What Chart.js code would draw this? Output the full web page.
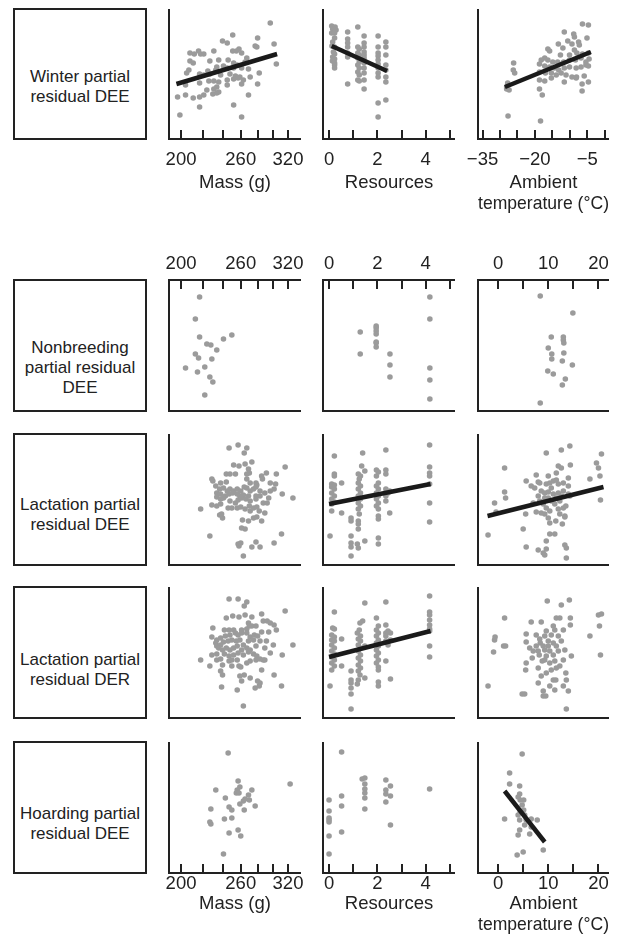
<!DOCTYPE html>
<html>
<head>
<meta charset="utf-8">
<title>Partial residual plots</title>
<script src="https://cdn.jsdelivr.net/npm/chart.js@4.4.1/dist/chart.umd.min.js"></script>
<style>
  html, body { margin: 0; padding: 0; background: #fff; }
  body { position: relative; width: 622px; height: 940px; overflow: hidden;
         font-family: "Liberation Sans", Arial, sans-serif; color: #222; }
  .box { position: absolute; left: 13px; width: 134px; box-sizing: border-box; border: 2px solid #222; }
  .lbl { position: absolute; left: 13px; width: 134px; text-align: center; font-size: 17px; line-height: 19.5px; }
  canvas { position: absolute; }
</style>
</head>
<body>
<div class="box" style="top:8px;height:132px"></div>
<div class="lbl" style="top:67px">Winter partial<br>residual DEE</div>
<div class="box" style="top:279px;height:133px"></div>
<div class="lbl" style="top:338px;line-height:20px">Nonbreeding<br>partial residual<br>DEE</div>
<div class="box" style="top:433px;height:133px"></div>
<div class="lbl" style="top:495px">Lactation partial<br>residual DEE</div>
<div class="box" style="top:586px;height:133px"></div>
<div class="lbl" style="top:650px">Lactation partial<br>residual DER</div>
<div class="box" style="top:741px;height:133px"></div>
<div class="lbl" style="top:804px">Hoarding partial<br>residual DEE</div>
<script>
const FONT = '"Liberation Sans", Arial, sans-serif';
const INK = '#222';

// tick values and which of them carry a label
const massTicks = [200, 220, 240, 260, 280, 300, 320];
const massLabels = [200, 260, 320];
const resTicks = [0, 1, 2, 3, 4, 5];
const resLabels = [0, 2, 4];
const winterTempTicks = [-35, -30, -25, -20, -15, -10, -5, 0];
const winterTempLabels = [-35, -20, -5];
const tempTicks = [0, 5, 10, 15, 20];
const tempLabels = [0, 10, 20];

// points: [x, partial residual]   (residual in arbitrary units, 0 = bottom of panel)
// Winter
const winterMass = [[296,116],[251,104],[280,101],[240,98],[245,96],[301,95],[277,93],[279,92],[258,90],[251,88],[255,88],[231,88],[216,88],[208,86],[212,85],[218,85],[261,86],[221,85],[267,81],[208,78],[211,76],[227,78],[236,79],[246,79],[252,76],[265,77],[304,75],[256,74],[241,73],[234,72],[225,68],[233,69],[245,71],[252,71],[261,71],[269,70],[207,69],[205,66],[217,65],[227,65],[221,64],[238,64],[248,65],[254,63],[259,62],[271,62],[282,66],[231,58],[226,58],[236,57],[245,59],[252,60],[257,61],[263,59],[217,56],[204,54],[234,52],[231,50],[224,49],[236,47],[245,54],[261,55],[280,55],[197,42],[204,44],[211,41],[217,42],[221,44],[230,45],[234,46],[269,44],[217,32],[252,34],[199,24],[261,22]];
const winterMassFit = [[196,55],[305,85]];
const winterRes = [[0.11,113],[0.25,112],[0.15,110],[0.29,109],[0.11,106],[0.23,106],[0.23,101],[0.15,97],[0.12,93],[0.23,92],[0.18,87],[0.23,85],[0.15,82],[0.23,80],[0.14,78],[0.23,76],[0.23,74],[0.23,71],
  [0.77,107],[0.77,100],[0.77,96],[0.77,92],[0.77,86],[0.77,82],[0.77,55],
  [1.19,112],[1.19,92],[1.25,90],[1.19,86],[1.25,84],[1.19,81],[1.25,77],[1.19,74],[1.25,71],[1.19,67],[1.25,64],[1.19,59],[1.25,58],
  [1.45,103],[1.45,96],[1.45,92],[1.45,87],[1.45,84],[1.45,81],[1.45,76],[1.45,71],[1.45,66],[1.45,59],[1.45,50],
  [2.03,103],[2.03,92],[2.03,86],[2.03,83],[2.03,79],[2.03,75],[2.03,71],[2.03,66],[2.03,62],[2.03,36],[2.03,22],
  [2.35,97],[2.35,92],[2.35,84],[2.35,74],[2.35,69],[2.35,62],[2.35,57],[2.35,39]];
const winterResFit = [[0.11,93],[2.4,68]];
const winterTemp = [[-6.4,115],[-4.7,114],[-11.6,107],[-8.9,105],[-8.7,102],[-5.1,101],[-10.6,98],[-7.5,97],[-13.3,95],[-12,91],[-9.4,95],[-7.3,94],[-16.3,90],[-15.8,88],[-8.7,89],[-10.1,84],[-12.7,84],[-8,86],[-6.4,85],[-4.7,86],[-17.2,81],[-18.2,79],[-16.3,79],[-14.9,77],[-13.5,77],[-11.8,77],[-10.1,79],[-8.4,79],[-6.8,81],[-5.4,77],[-4.5,80],[-26.1,76],[-26.2,69],[-25.8,66],[-18.7,75],[-17.2,73],[-15.8,72],[-14.4,71],[-13.2,69],[-11.6,71],[-10.1,72],[-8.2,71],[-6.8,72],[-5.4,74],[-4.7,73],[-18.7,67],[-17,66],[-15.3,66],[-13.9,64],[-12.5,66],[-11.1,64],[-9.4,62],[-8.1,62],[-5.9,63],[-18.7,59],[-17.2,58],[-15.3,61],[-11.6,57],[-8.2,61],[-4.7,57],[-27.8,56],[-28.1,52],[-27.4,49],[-28.1,50],[-18.7,50],[-17.9,44],[-6.5,55],[-6.5,48],[-27.7,23],[-18.4,18]];
const winterTempFit = [[-28.6,52],[-4,87]];

// Nonbreeding
const nonbMass = [[217,114],[213,92],[217,74],[241,72],[250,76],[224,67],[228,66],[234,61],[213,57],[216,53],[229,52],[204,43],[222,44],[215,39],[227,34],[230,29],[222,16]];
const nonbRes = [[1.29,79],[1.29,57],[1.95,85],[1.95,83],[1.95,80],[1.95,77],[1.95,69],[1.95,68],[1.95,64],[2.52,57],[2.52,46],[2.52,34],[4.17,114],[4.17,92],[4.17,43],[4.17,31],[4.17,12]];
const nonbTemp = [[8.4,115],[14.9,98],[10.6,74],[13.0,74],[13.0,71],[13.1,68],[10.0,63],[10.7,57],[10.7,52],[13.1,58],[12.8,50],[14.8,46],[9.9,40],[11.0,37],[13.4,32],[12.8,26],[8.4,8]];

// Lactation DEE
const lactDeeMass = [[247,117],[257,120],[267,117],[264,112],[252,100],[258,99],[265,101],[273,103],[269,96],[270,92],[267,91],[244,91],[248,91],[254,91],[229,86],[230,84],[238,82],[244,83],[285,89],[291,92],[304,91],[316,98],[286,86],[296,82],[303,81],[267,86],[271,82],[278,82],[279,80],[233,79],[237,76],[241,77],[245,74],[248,76],[252,74],[256,76],[260,74],[264,78],[267,77],[271,74],[275,76],[278,78],[283,74],[289,72],[296,74],[301,76],[312,71],[327,67],[234,72],[238,71],[243,69],[247,71],[251,72],[256,71],[259,69],[263,70],[269,69],[278,69],[283,69],[294,67],[234,68],[238,66],[241,67],[248,64],[254,62],[257,65],[261,67],[266,66],[271,64],[278,66],[287,62],[292,62],[229,60],[234,59],[238,61],[246,57],[250,57],[256,57],[260,58],[265,56],[270,59],[271,54],[275,57],[279,58],[282,54],[289,52],[218,56],[237,50],[240,47],[239,51],[262,45],[269,44],[275,47],[279,48],[285,44],[261,37],[265,36],[227,29],[311,31],[301,22],[278,23],[258,19],[257,21],[260,22],[273,18],[283,18],[263,9]];
const lactDeeRes = [[0.22,109],[0.22,91],[0.22,89],[0.11,81],[0.22,80],[0.11,78],[0.22,76],[0.11,72],[0.22,69],[0.11,66],[0.22,63],[0.11,61],[0.11,54],[0.04,29],
  [0.52,82],[0.52,52],
  [0.91,47],[0.91,44],[0.91,29],[0.91,18],[0.91,9],[0.91,22],
  [1.39,112],[1.35,99],[1.21,91],[1.30,89],[1.25,86],[1.21,82],[1.30,79],[1.21,76],[1.30,72],[1.21,69],[1.30,66],[1.21,62],[1.30,59],[1.21,56],[1.25,51],[1.21,44],[1.21,41],[1.21,36],[1.17,21],[1.21,17],[1.48,24],[1.48,94],
  [2.35,115],[1.96,95],[2.04,93],[1.96,89],[2.04,82],[1.96,79],[2.04,76],[1.96,72],[2.04,69],[1.96,66],[2.04,62],[1.96,59],[2.04,56],[2.04,49],[2.04,46],[2.04,27],[2.04,21],
  [2.35,95],[2.35,91],[2.35,76],[2.44,72],[2.35,69],[2.35,64],[2.51,52],[2.51,74],
  [4.16,120],[4.16,98],[4.16,92],[4.16,89],[4.16,81],[4.16,62],[4.16,43]];
const lactDeeResFit = [[0,61],[4.2,81]];
const lactDeeTemp = [[-2.0,30],[-0.7,62],[-0.4,53],[1.3,97],[1.3,73],[1.5,67],[5.6,84],[5.5,51],[5.0,36],[5.6,18],[6.6,79],[7.3,77],[8.0,83],[7.6,90],[8.3,82],[8.6,74],[9.3,72],[8.0,69],[7.0,62],[8.3,64],[9.0,61],[7.6,53],[8.6,52],[9.6,112],[10.0,89],[9.6,81],[10.6,77],[10.0,73],[11.0,71],[10.0,67],[10.6,64],[11.3,61],[9.6,57],[10.3,54],[9.3,51],[10.0,47],[10.3,42],[9.6,24],[10.3,31],[11.3,31],[8.0,15],[9.0,12],[9.3,10],[9.6,16],[11.6,92],[11.6,85],[12.0,81],[12.0,72],[11.6,67],[12.3,64],[12.0,56],[12.3,51],[11.5,44],[12.6,115],[12.0,99],[12.6,97],[13.0,82],[13.0,74],[12.6,69],[13.0,57],[13.3,48],[12.8,41],[13.3,20],[13.6,17],[13.6,7],[14.0,87],[14.0,79],[14.0,71],[14.4,100],[14.3,119],[13.5,59],[13.3,49],[18.3,86],[19.6,102],[20.0,97],[20.3,89],[20.4,65],[20.6,111],[14.3,69],[11.0,84],[10.3,82],[9.3,67]];
const lactDeeTempFit = [[-2.1,49],[21,78]];

// Lactation DER
const lactDerMass = [[247,119],[257,119],[267,116],[264,112],[244,100],[251,102],[258,101],[265,103],[273,101],[269,95],[270,92],[285,104],[316,107],[230,90],[242,88],[247,88],[252,88],[261,88],[267,89],[273,92],[278,92],[287,97],[292,97],[296,95],[301,93],[304,88],[294,86],[285,86],[229,81],[234,78],[238,80],[243,82],[248,83],[254,85],[257,83],[261,85],[267,85],[271,81],[276,83],[280,82],[233,75],[234,72],[238,73],[241,76],[246,77],[250,78],[255,77],[259,78],[263,73],[269,77],[275,78],[283,77],[291,77],[300,73],[327,73],[236,70],[240,68],[244,70],[248,68],[252,70],[256,72],[261,68],[267,70],[271,68],[278,72],[289,70],[296,65],[229,63],[234,64],[242,64],[247,62],[252,63],[257,65],[263,63],[269,66],[275,64],[279,62],[287,58],[312,63],[218,58],[227,52],[234,58],[238,59],[240,53],[247,57],[250,58],[256,58],[258,52],[267,55],[271,57],[278,58],[283,59],[289,58],[238,47],[240,43],[250,52],[260,51],[264,43],[259,42],[271,40],[261,37],[285,48],[280,37],[283,35],[239,31],[256,28],[277,30],[282,32],[301,43],[311,32],[263,12]];
const lactDerRes = [[0.22,106],[0.15,90],[0.22,89],[0.11,83],[0.22,81],[0.11,78],[0.22,77],[0.11,73],[0.22,70],[0.11,67],[0.22,64],[0.11,61],[0.22,58],[0.11,55],[0.22,52],[0.11,48],[0.04,32],
  [0.52,79],[0.52,52],
  [0.91,47],[0.91,38],[0.91,30],[0.91,24],[0.91,9],[0.91,35],
  [1.48,115],[1.39,97],[1.28,95],[1.25,88],[1.17,85],[1.30,82],[1.21,79],[1.30,77],[1.21,73],[1.30,70],[1.21,67],[1.30,63],[1.21,60],[1.30,57],[1.21,53],[1.30,50],[1.21,47],[1.28,43],[1.21,38],[1.17,34],[1.48,40],[1.48,72],
  [2.35,116],[1.96,100],[2.04,92],[1.96,88],[2.04,85],[1.96,82],[2.04,78],[1.96,75],[2.04,72],[1.96,68],[2.04,65],[1.96,62],[2.04,58],[1.96,55],[2.04,51],[2.04,48],[2.04,36],[2.04,32],[2.35,57],
  [2.35,93],[2.44,87],[2.35,85],[2.54,85],[2.35,82],[2.54,78],[2.35,77],[2.44,73],[2.54,39],
  [4.16,122],[4.16,106],[4.16,103],[4.16,98],[4.16,93],[4.16,89],[4.16,87],[4.16,72],[4.16,61]];
const lactDerResFit = [[0,61],[4.2,87]];
const lactDerTemp = [[-2.0,32],[-0.9,66],[-0.7,78],[-0.6,81],[1.3,100],[1.1,72],[1.5,72],[4.8,24],[5.5,48],[5.6,55],[5.6,84],[6.3,70],[6.6,96],[6.8,60],[5.6,76],[7.6,83],[8.0,67],[8.0,50],[8.2,63],[8.3,79],[8.6,96],[8.4,75],[9.0,72],[9.3,82],[9.3,68],[9.3,58],[9.6,87],[9.6,62],[9.6,45],[10.0,77],[10.0,72],[10.3,67],[9.8,117],[10.3,55],[10.6,83],[10.6,48],[11.0,92],[11.0,75],[11.0,63],[11.3,57],[11.3,88],[11.6,72],[11.6,100],[12.0,82],[12.0,67],[12.3,100],[12.3,52],[12.6,113],[12.6,77],[13.0,88],[13.0,58],[13.3,68],[13.5,45],[13.6,38],[14.0,27],[14.2,118],[14.4,100],[14.4,93],[14.6,62],[13.0,32],[13.6,9],[9.0,27],[9.5,22],[8.0,35],[10.3,32],[11.0,38],[11.3,28],[11.5,38],[11.6,50],[8.6,42],[7.0,67],[7.6,72],[8.8,57],[18.3,82],[20.0,103],[20.6,104],[20.2,92],[20.4,63],[5.3,24],[9.0,22]];

// Hoarding
const hoardMass = [[246,120],[257,92],[259,86],[233,83],[256,83],[255,80],[258,80],[273,83],[269,78],[265,74],[270,73],[263,72],[259,69],[243,75],[228,64],[247,66],[250,63],[264,63],[277,67],[227,51],[228,49],[242,54],[250,55],[257,43],[247,40],[260,37],[241,19],[323,89]];
const hoardRes = [[0.52,121],[0,73],[0,62],[0,55],[0,53],[0,51],[0,37],[0,19],[0.52,77],[0.52,67],[0.52,41],[1.37,94],[1.48,95],[1.48,89],[1.48,84],[1.48,80],[1.48,75],[1.48,64],[2.35,93],[2.54,87],[2.35,83],[2.35,79],[2.54,77],[2.35,71],[2.54,48],[4.16,84]];
const hoardTemp = [[4.8,119],[2.3,100],[2.3,89],[4.3,87],[4.3,79],[4.0,76],[4.4,73],[5.1,73],[4.8,68],[5.1,63],[4.0,58],[5.3,58],[1.3,54],[4.3,53],[6.6,54],[7.8,53],[5.3,48],[4.3,43],[6.6,46],[6.3,39],[4.0,38],[9.0,23],[5.0,21],[3.8,18],[5.6,53],[4.4,61]];
const hoardTempFit = [[1.3,82],[9.3,31]];

// x axes
const axes = {
  mass:  { type: 'logarithmic', min: 189.7, max: 338.8, ticks: massTicks, labels: massLabels, title: 'Mass (g)' },
  res:   { type: 'linear', min: -0.25, max: 5.21, ticks: resTicks, labels: resLabels, title: 'Resources' },
  wtemp: { type: 'linear', min: -36.3, max: 1.2, ticks: winterTempTicks, labels: winterTempLabels, title: ['Ambient', 'temperature (\u00b0C)'] },
  temp:  { type: 'linear', min: -4, max: 22.1, ticks: tempTicks, labels: tempLabels, title: ['Ambient', 'temperature (\u00b0C)'] }
};

// panel geometry (page pixels)
const cols = [{ L: 169, R: 301 }, { L: 323, R: 455 }, { L: 478, R: 609 }];
const rows = [
  { T: 9,   B: 139, cy: 3,   cyEnd: 219, axis: 'bottom', pad: 10, h: [55, 55, 76], title: true },
  { T: 280, B: 411, cy: 248, cyEnd: 417, axis: 'top',    pad: 5,  h: [28, 28, 28], title: false },
  { T: 434, B: 565, cy: 428, cyEnd: 571, axis: null },
  { T: 587, B: 718, cy: 581, cyEnd: 724, axis: null },
  { T: 742, B: 873, cy: 736, cyEnd: 940, axis: 'bottom', pad: 0,  h: [42, 42, 63], title: true }
];

Chart.defaults.font.family = FONT;
Chart.defaults.color = INK;

const fmt = v => v < 0 ? '\u2212' + Math.abs(v) : String(v);

// axis lines and inward tick marks
const frame = {
  id: 'frame',
  afterDraw(chart, args, opts) {
    const { ctx, chartArea: a } = chart;
    const xs = chart.scales.x;
    ctx.save();
    ctx.strokeStyle = INK;
    ctx.lineWidth = 2;
    ctx.beginPath();
    ctx.moveTo(a.left, a.top - (opts.top ? 1 : 0));
    ctx.lineTo(a.left, a.bottom + 1);
    ctx.moveTo(a.left - 1, a.bottom);
    ctx.lineTo(a.right, a.bottom);
    if (opts.top) {
      ctx.moveTo(a.left - 1, a.top);
      ctx.lineTo(a.right, a.top);
    }
    if (opts.ticks) {
      const y0 = opts.top ? a.top : a.bottom;
      const d = opts.top ? 9 : -9;
      xs.ticks.forEach(t => {
        const x = Math.round(xs.getPixelForValue(t.value));
        ctx.moveTo(x, y0);
        ctx.lineTo(x, y0 + d);
      });
    }
    ctx.stroke();
    ctx.restore();
  }
};

function panel(ri, ci, key, pts, fit) {
  const r = rows[ri], c = cols[ci], ax = axes[key];
  const cx = c.L - 30, cw = c.R - c.L + 60, ch = r.cyEnd - r.cy;
  const cv = document.createElement('canvas');
  cv.width = cw; cv.height = ch;
  cv.style.left = cx + 'px'; cv.style.top = r.cy + 'px';
  cv.style.width = cw + 'px'; cv.style.height = ch + 'px';
  document.body.appendChild(cv);

  const H = r.axis ? r.h[ci] : 0;
  const padding = {
    left: 30, right: 30,
    top: r.axis === 'top' ? r.T - r.cy - H : r.T - r.cy,
    bottom: r.axis === 'bottom' ? r.cyEnd - r.B - H : r.cyEnd - r.B
  };

  const datasets = [];
  if (fit) {
    datasets.push({
      data: fit.map(p => ({ x: p[0], y: p[1] })),
      showLine: true, pointRadius: 0, borderColor: '#1a1a1a', borderWidth: 4.5,
      clip: false, order: 0
    });
  }
  datasets.push({
    data: pts.map(p => ({ x: p[0], y: p[1] })),
    pointRadius: 2.8, pointHoverRadius: 2.8, backgroundColor: '#9b9b9b', borderWidth: 0,
    clip: false, order: 1
  });

  const x = {
    type: ax.type, min: ax.min, max: ax.max, bounds: 'data',
    display: !!r.axis, position: r.axis === 'top' ? 'top' : 'bottom',
    grid: { display: false, drawTicks: false },
    border: { display: false },
    afterBuildTicks: s => { s.ticks = ax.ticks.map(v => ({ value: v })); },
    ticks: {
      autoSkip: false, maxRotation: 0, minRotation: 0, padding: r.pad || 0, color: INK,
      font: { size: 18.5, lineHeight: 1.17 },
      callback: v => ax.labels.includes(v) ? fmt(v) : ''
    },
    title: { display: !!r.title, text: ax.title, color: INK, padding: 0, font: { size: 18.5, lineHeight: 1.17 } }
  };
  if (r.axis) x.afterFit = s => { s.height = H; };

  new Chart(cv, {
    type: 'scatter',
    data: { datasets },
    options: {
      responsive: false, animation: false, events: [],
      layout: { padding },
      plugins: {
        legend: { display: false }, tooltip: { enabled: false },
        frame: { ticks: !!r.axis, top: r.axis === 'top' }
      },
      scales: {
        x,
        y: { display: false, min: 0, max: r.B - r.T }
      }
    },
    plugins: [frame]
  });
}

panel(0, 0, 'mass', winterMass, winterMassFit);
panel(0, 1, 'res', winterRes, winterResFit);
panel(0, 2, 'wtemp', winterTemp, winterTempFit);
panel(1, 0, 'mass', nonbMass);
panel(1, 1, 'res', nonbRes);
panel(1, 2, 'temp', nonbTemp);
panel(2, 0, 'mass', lactDeeMass);
panel(2, 1, 'res', lactDeeRes, lactDeeResFit);
panel(2, 2, 'temp', lactDeeTemp, lactDeeTempFit);
panel(3, 0, 'mass', lactDerMass);
panel(3, 1, 'res', lactDerRes, lactDerResFit);
panel(3, 2, 'temp', lactDerTemp);
panel(4, 0, 'mass', hoardMass);
panel(4, 1, 'res', hoardRes);
panel(4, 2, 'temp', hoardTemp, hoardTempFit);
</script>
</body>
</html>
